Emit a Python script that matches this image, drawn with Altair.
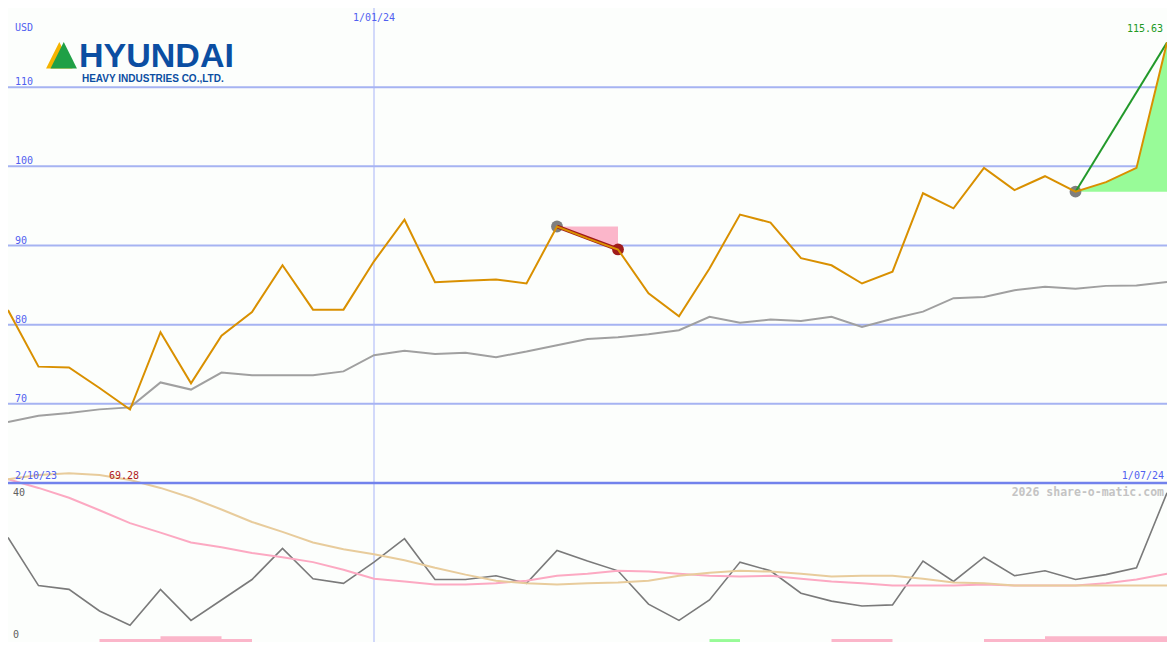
import altair as alt
import pandas as pd

# ---------------- data ----------------
idx = list(range(39))
price = [81.85, 74.7, 74.6, 72.0, 69.28, 79.05, 72.6, 78.6, 81.6, 87.5,
         81.9, 81.9, 88.0, 93.25, 85.35, 85.55, 85.7, 85.2, 92.4, 90.9,
         89.5, 83.96, 81.05, 87.1, 93.9, 92.9, 88.4, 87.5, 85.2, 86.7,
         96.6, 94.7, 99.8, 97.0, 98.75, 96.8, 98.0, 99.8, 115.63]
ma = [67.7, 68.5, 68.85, 69.3, 69.55, 72.7, 71.8, 73.95, 73.6, 73.6,
      73.6, 74.1, 76.15, 76.7, 76.3, 76.45, 75.9, 76.6, 77.4, 78.2,
      78.4, 78.8, 79.3, 81.0, 80.25, 80.65, 80.45, 81.0, 79.7, 80.75,
      81.65, 83.35, 83.5, 84.35, 84.8, 84.55, 84.9, 84.95, 85.4]
osc = [27.1, 14.4, 13.4, 7.7, 3.9, 13.4, 5.2, 10.6, 16.0, 24.2,
       16.2, 15.0, 20.6, 26.8, 16.0, 16.0, 17.0, 15.0, 23.7, 20.9,
       18.3, 9.5, 5.2, 10.6, 20.6, 18.3, 12.4, 10.3, 9.0, 9.3,
       20.9, 15.5, 21.9, 17.0, 18.3, 16.0, 17.3, 19.1, 38.9]
osc_pink = [42.5, 40.2, 37.6, 34.3, 30.9, 28.4, 25.8, 24.5, 23.0, 21.9,
            20.6, 18.6, 16.2, 15.5, 14.7, 14.7, 15.0, 15.7, 17.0, 17.5,
            18.3, 18.1, 17.5, 17.0, 16.8, 17.0, 16.2, 15.5, 15.0, 14.4,
            14.4, 14.4, 14.7, 14.4, 14.4, 14.4, 15.0, 16.0, 17.5]
osc_tan = [42.5, 43.6, 44.1, 43.6, 42.3, 40.2, 37.6, 34.5, 31.2, 28.6,
           25.8, 24.0, 22.7, 21.1, 19.1, 17.3, 15.7, 15.0, 14.7, 15.0,
           15.2, 15.7, 17.0, 17.8, 18.3, 18.1, 17.5, 16.8, 17.0, 17.0,
           16.2, 15.2, 15.0, 14.4, 14.4, 14.4, 14.4, 14.4, 14.4]
grid_vals = [70, 80, 90, 100, 110]
grid_labels = ["70", "80", "90", "100", "110"]

down_idx = [18, 19, 20]
down_base = 92.4
up_idx = [35, 36, 37, 38]
up_base = 96.8
trend_down_i = [18, 20]
trend_down_v = [92.4, 89.5]
trend_up_i = [35, 38]
trend_up_v = [96.8, 115.63]
dot_i = [18, 35, 20]
dot_v = [92.4, 96.8, 89.5]
dot_c = ["#7f7f7f", "#7f7f7f", "#a01c1c"]

bar_x1 = [3, 5, 23, 27, 32, 34]
bar_x2 = [8, 7, 24, 29, 34, 38]
bar_top = [0.27, 1.05, 0.27, 0.27, 0.27, 1.05]
bar_col = ["#fbb6ca", "#fbb6ca", "#98fb98", "#fbb6ca", "#fbb6ca", "#fbb6ca"]

# ---------------- layout ----------------
W = 1159
H = 634
H_TOP = 475
SX = W / 1175
SY = H / 650

BLUE_TXT = "#5060f0"
MONO = "DejaVu Sans Mono"

xs = alt.Scale(domain=[0, 38], nice=False, zero=False)
ys_top = alt.Scale(domain=[60, 120], range=[H_TOP, 0], nice=False, zero=False)
ys_bot = alt.Scale(domain=[-0.5, 41.5], range=[H, H_TOP], nice=False, zero=False)

df = pd.DataFrame({"i": idx, "price": price, "ma": ma, "osc": osc,
                   "pink": osc_pink, "tan": osc_tan})
X = alt.X("i:Q", scale=xs, axis=None)

grid = alt.Chart(pd.DataFrame({"v": grid_vals, "t": grid_labels}))
grid_rules = grid.mark_rule(color="#a6b3f2", strokeWidth=2).encode(
    y=alt.Y("v:Q", scale=ys_top, axis=None))
grid_text = grid.mark_text(align="left", baseline="alphabetic", font=MONO, fontSize=10,
                           color=BLUE_TXT, dx=0, dy=-2).encode(
    x=alt.value(7 * SX), y=alt.Y("v:Q", scale=ys_top, axis=None), text="t:N")

vline = alt.Chart(pd.DataFrame({"i": [12]})).mark_rule(color="#a8b4f8", strokeWidth=1).encode(
    x=alt.X("i:Q", scale=xs, axis=None))

down_df = pd.DataFrame({"i": down_idx, "p": [price[k] for k in down_idx], "b": down_base})
up_df = pd.DataFrame({"i": up_idx, "p": [price[k] for k in up_idx], "b": up_base})
down_area = alt.Chart(down_df).mark_area(color="#fbb6ca", opacity=1).encode(
    x=X, y=alt.Y("p:Q", scale=ys_top, axis=None), y2="b:Q")
up_area = alt.Chart(up_df).mark_area(color="#98fb98", opacity=1).encode(
    x=X, y=alt.Y("p:Q", scale=ys_top, axis=None), y2="b:Q")

ma_line = alt.Chart(df).mark_line(color="#a0a0a0", strokeWidth=2).encode(
    x=X, y=alt.Y("ma:Q", scale=ys_top, axis=None))

dots = alt.Chart(pd.DataFrame({"i": dot_i, "v": dot_v, "c": dot_c})).mark_circle(
    size=140, opacity=1).encode(
    x=X, y=alt.Y("v:Q", scale=ys_top, axis=None), color=alt.Color("c:N", scale=None))

tr_down = alt.Chart(pd.DataFrame({"i": trend_down_i, "v": trend_down_v})).mark_line(
    color="#a01a1a", strokeWidth=4).encode(x=X, y=alt.Y("v:Q", scale=ys_top, axis=None))
tr_up = alt.Chart(pd.DataFrame({"i": trend_up_i, "v": trend_up_v})).mark_line(
    color="#22992a", strokeWidth=2).encode(x=X, y=alt.Y("v:Q", scale=ys_top, axis=None))

price_line = alt.Chart(df).mark_line(color="#d99000", strokeWidth=2).encode(
    x=X, y=alt.Y("price:Q", scale=ys_top, axis=None))


def label(text, color, align, x_enc, y_px, dx=0, size=10, weight="normal", font=MONO):
    return alt.Chart(pd.DataFrame({"t": [text]})).mark_text(
        align=align, baseline="alphabetic", font=font, fontSize=size, color=color,
        dx=dx, fontWeight=weight).encode(x=x_enc, y=alt.value(y_px), text="t:N")


def label_i(text, color, align, i_val, y_px, dx=0, size=10, weight="normal"):
    return alt.Chart(pd.DataFrame({"t": [text], "xv": [i_val]})).mark_text(
        align=align, baseline="alphabetic", font=MONO, fontSize=size, color=color,
        dx=dx, fontWeight=weight).encode(x=alt.X("xv:Q", scale=xs, axis=None),
                                         y=alt.value(y_px), text="t:N")


txt_usd = label("USD", BLUE_TXT, "left", alt.value(7 * SX), 24 * SY)
txt_date_mid = label_i("1/01/24", BLUE_TXT, "center", 12, 13 * SY)
txt_last = label_i("115.63", "#229922", "right", 38, 25 * SY, dx=-4)
txt_date_l = label("2/10/23", BLUE_TXT, "left", alt.value(7 * SX), 483 * SY)
txt_min = label_i("69.28", "#b01c1c", "center", 4, 483 * SY, dx=-6)
txt_date_r = label_i("1/07/24", BLUE_TXT, "right", 38, 483 * SY, dx=-3)

# logo
tri_shape = "M-1,1L0,-1L1,1Z"
logo_y = alt.Chart(pd.DataFrame({"a": [1]})).mark_point(
    shape=tri_shape, filled=True, color="#f5b400", opacity=1, size=27 * 27 * SX * SY).encode(
    x=alt.value(52 * SX), y=alt.value(48.5 * SY))
logo_g = alt.Chart(pd.DataFrame({"a": [1]})).mark_point(
    shape=tri_shape, filled=True, color="#1fa046", opacity=1, size=27 * 27 * SX * SY).encode(
    x=alt.value(56.5 * SX), y=alt.value(48.5 * SY))
logo_t1 = label("HYUNDAI", "#0b4ea2", "left", alt.value(72 * SX), 61 * SY, size=34,
                weight="bold", font="Liberation Sans")
logo_t2 = label("HEAVY INDUSTRIES CO.,LTD.", "#0b4ea2", "left", alt.value(75 * SX), 76 * SY,
                size=10, weight="bold", font="Liberation Sans")

# bottom panel
sep = alt.Chart(pd.DataFrame({"v": [41.5]})).mark_rule(color="#7282ec", strokeWidth=2.5).encode(
    y=alt.Y("v:Q", scale=ys_bot, axis=None))
pink_line = alt.Chart(df).mark_line(color="#fca9c2", strokeWidth=2).encode(
    x=X, y=alt.Y("pink:Q", scale=ys_bot, axis=None))
tan_line = alt.Chart(df).mark_line(color="#e8cc9c", strokeWidth=2).encode(
    x=X, y=alt.Y("tan:Q", scale=ys_bot, axis=None))
osc_line = alt.Chart(df).mark_line(color="#7a7a7a", strokeWidth=1.6).encode(
    x=X, y=alt.Y("osc:Q", scale=ys_bot, axis=None))
bars = alt.Chart(pd.DataFrame({"x1": bar_x1, "x2": bar_x2, "t": bar_top,
                               "b": [-0.5] * len(bar_x1), "c": bar_col})).mark_rect().encode(
    x=alt.X("x1:Q", scale=xs, axis=None), x2="x2:Q",
    y=alt.Y("t:Q", scale=ys_bot, axis=None), y2="b:Q",
    color=alt.Color("c:N", scale=None))
txt_40 = label("40", "#606060", "left", alt.value(5 * SX), 500 * SY)
txt_0 = label("0", "#606060", "left", alt.value(5 * SX), 646 * SY)
txt_wm = label_i("2026 share-o-matic.com", "#c4c4c4", "right", 38, 500 * SY, dx=-3,
                 size=11.5, weight="bold")

chart = alt.layer(
    grid_rules, vline, down_area, up_area, ma_line, dots, tr_down, tr_up, price_line,
    grid_text, txt_usd, txt_date_mid, txt_last,
    logo_y, logo_g, logo_t1, logo_t2,
    bars, osc_line, pink_line, tan_line, sep,
    txt_date_l, txt_min, txt_date_r, txt_40, txt_0, txt_wm,
).resolve_scale(y="independent").properties(
    width=W, height=H, padding=0, background="#fcfefc",
    autosize=alt.AutoSizeParams(type="none"),
).configure_view(stroke=None)

chart.save("out.html", embed_options={"renderer": "svg", "actions": False})
